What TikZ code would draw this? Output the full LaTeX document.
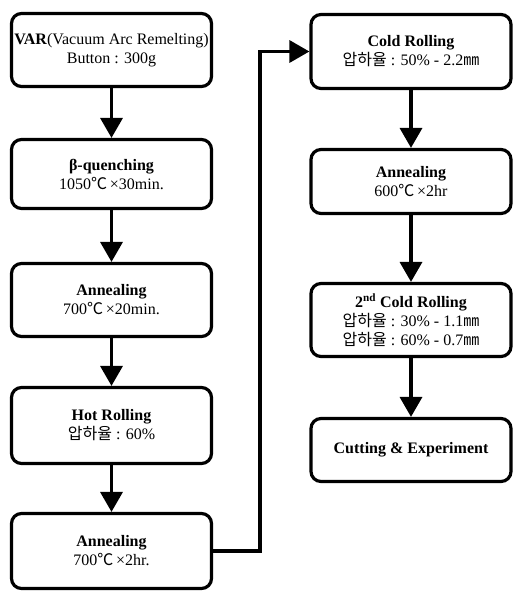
\documentclass[tikz,border=0pt]{standalone}
\usepackage{fontspec}
\setmainfont{Liberation Serif}
\newfontfamily\kr{Noto Sans CJK KR}
\usetikzlibrary{arrows.meta}
\newcommand{\degc}{{\kr ℃}}
\newcommand{\mmu}{{\kr ㎜}}
\begin{document}
\begin{tikzpicture}[x=1pt, y=-1pt,
    stepbox/.style={draw, line width=3.2pt, rounded corners=10pt, align=center,
        minimum width=200pt, inner sep=0pt, font=\fontsize{16}{19}\selectfont},
    flow/.style={line width=3.5pt, -{Triangle[width=22pt, length=20pt]}}]
    \useasboundingbox (0,0) rectangle (513,592);

    % --- Left column: melting to hot rolling ---
    \node[stepbox, minimum height=73pt] (var)   at (111.5,50)  {\textbf{VAR}(Vacuum Arc Remelting)\\Button : 300g};
    \node[stepbox, minimum height=69pt] (quench) at (111.5,174) {\textbf{β-quenching}\\1050\degc\,×30min.};
    \node[stepbox, minimum height=73pt] (annA)  at (111.5,300) {\textbf{Annealing}\\700\degc\,×20min.};
    \node[stepbox, minimum height=76pt] (hot)   at (111.5,425.5) {\textbf{Hot Rolling}\\{\kr 압하율} : 60\%};
    \node[stepbox, minimum height=75pt] (annB)  at (111.5,551) {\textbf{Annealing}\\700\degc\,×2hr.};

    % --- Right column: cold rolling to experiment ---
    \node[stepbox, minimum height=74pt] (cold)  at (411,51.5)  {\textbf{Cold Rolling}\\{\kr 압하율} : 50\% - 2.2\mmu};
    \node[stepbox, minimum height=64pt] (annC)  at (411,181.5) {\textbf{Annealing}\\600\degc\,×2hr};
    \node[stepbox, minimum height=73pt] (coldB) at (411,320)   {\textbf{2\textsuperscript{nd} Cold Rolling}\\{\kr 압하율} : 30\% - 1.1\mmu\\{\kr 압하율} : 60\% - 0.7\mmu};
    \node[stepbox, minimum height=63pt] (cut)   at (411,450)   {\textbf{Cutting \& Experiment}};

    % --- Process flow ---
    \draw[flow] (var) -- (quench);
    \draw[flow] (quench) -- (annA);
    \draw[flow] (annA) -- (hot);
    \draw[flow] (hot) -- (annB);
    \draw[flow] (annB.east) -- ++(47,0) |- (cold.west);
    \draw[flow] (cold) -- (annC);
    \draw[flow] (annC) -- (coldB);
    \draw[flow] (coldB) -- (cut);
\end{tikzpicture}
\end{document}
